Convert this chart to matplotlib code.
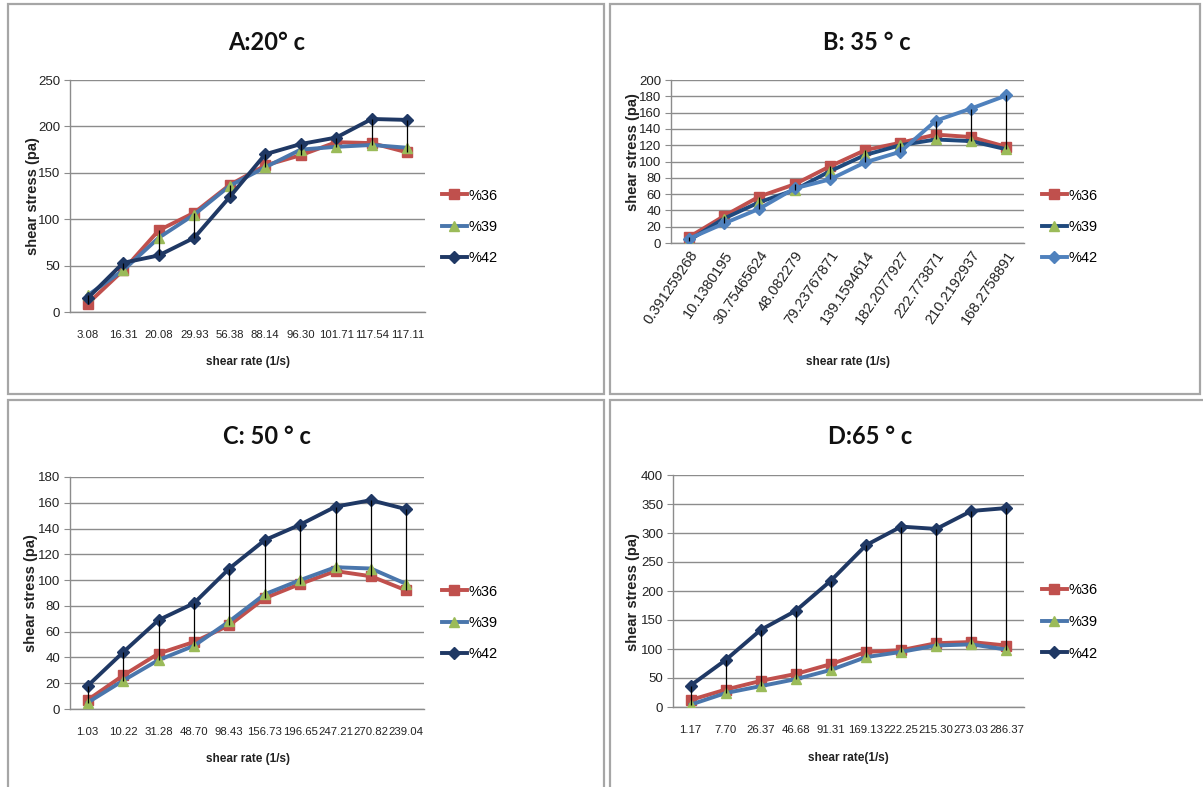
import matplotlib
matplotlib.use("Agg")
import matplotlib.pyplot as plt
from matplotlib.patches import Rectangle

# ---------------- data ----------------
a_rates = ["3.08", "16.31", "20.08", "29.93", "56.38", "88.14", "96.30", "101.71", "117.54", "117.11"]
a_36 = [9, 45, 88, 107, 137, 158, 169, 183, 182, 172]
a_39 = [18, 45, 80, 105, 136, 156, 175, 178, 180, 177]
a_42 = [15, 53, 61, 80, 124, 170, 181, 188, 208, 207]

b_rates = ["0.391259268", "10.1380195", "30.75465624", "48.082279", "79.23767871",
           "139.1594614", "182.2077927", "222.773871", "210.2192937", "168.2758891"]
b_36 = [7, 33, 57, 72, 94, 114, 123, 133, 130, 118]
b_39 = [3, 30, 50, 65, 88, 108, 120, 127, 125, 115]
b_42 = [5, 24, 42, 67, 78, 99, 112, 150, 165, 181]

c_rates = ["1.03", "10.22", "31.28", "48.70", "98.43", "156.73", "196.65", "247.21", "270.82", "239.04"]
c_36 = [7, 26, 43, 52, 65, 86, 97, 107, 103, 92]
c_39 = [5, 22, 38, 49, 68, 89, 100, 110, 109, 97]
c_42 = [18, 44, 69, 82, 109, 131, 143, 157, 162, 155]

d_rates = ["1.17", "7.70", "26.37", "46.68", "91.31", "169.13", "222.25", "215.30", "273.03", "286.37"]
d_36 = [12, 30, 45, 57, 74, 95, 98, 110, 112, 106]
d_39 = [4, 24, 36, 48, 64, 86, 95, 106, 108, 99]
d_42 = [37, 81, 133, 166, 218, 279, 311, 307, 338, 343]

series_names = ["%36", "%39", "%42"]
titles = ["A:20° c", "B: 35 ° c", "C: 50 ° c", "D:65 ° c"]
xlabels = ["shear rate (1/s)", "shear rate (1/s)", "shear rate (1/s)", "shear rate(1/s)"]
ylabel = "shear stress (pa)"

# ---------------- styling ----------------
W, H = 1203, 787
fig = plt.figure(figsize=(W / 100, H / 100), dpi=100)
fig.patch.set_facecolor("white")

SANS = ["Liberation Sans", "DejaVu Sans"]
TITLEF = ["Lato", "DejaVu Sans"]

RED = "#C0504D"
MID = "#4A76AC"
NAVY = "#1F3864"
GREEN = "#9BBB59"
LBLUE = "#4F81BD"
DNAVY = "#1F497D"
GRID = "#8C8C8C"


def fx(px):
    return px / W


def fy(py):
    return 1 - py / H


# panel borders (pixel boxes: x0, y0, x1, y1)
boxes = [(8, 4, 604, 394), (610, 4, 1200, 394), (8, 400, 604, 790), (610, 400, 1206, 790)]
for (x0, y0, x1, y1) in boxes:
    fig.patches.append(Rectangle((fx(x0), fy(y1)), fx(x1 - x0), (y1 - y0) / H,
                                 transform=fig.transFigure, fill=False,
                                 edgecolor="#A6A6A6", linewidth=1.6))

panels = [
    dict(rect=(70, 80, 425, 312), rates=a_rates, data=(a_36, a_39, a_42), ymax=250, step=50,
         colors=(RED, MID, NAVY), rot=0, title_xy=(267, 42), xl_xy=(248, 362), yl_xy=(33, 196),
         leg_xy=(442, 227)),
    dict(rect=(671, 80, 1024, 243), rates=b_rates, data=(b_36, b_39, b_42), ymax=200, step=20,
         colors=(RED, DNAVY, LBLUE), rot=56, title_xy=(867, 42), xl_xy=(848, 362), yl_xy=(633, 152),
         leg_xy=(1042, 227)),
    dict(rect=(70, 477, 424, 709), rates=c_rates, data=(c_36, c_39, c_42), ymax=180, step=20,
         colors=(RED, MID, NAVY), rot=0, title_xy=(267, 437), xl_xy=(248, 759), yl_xy=(31, 593),
         leg_xy=(442, 623)),
    dict(rect=(673, 475, 1024, 707), rates=d_rates, data=(d_36, d_39, d_42), ymax=400, step=50,
         colors=(RED, MID, NAVY), rot=0, title_xy=(870, 436), xl_xy=(848, 758), yl_xy=(633, 592),
         leg_xy=(1042, 622)),
]

markers = ["s", "^", "D"]
msizes = [7.5, 7.5, 6]

for i, p in enumerate(panels):
    x0, y0, x1, y1 = p["rect"]
    ax = fig.add_axes([fx(x0), fy(y1), fx(x1 - x0), (y1 - y0) / H])
    n = len(p["rates"])
    xs = list(range(n))
    handles = []
    for k, (vals, col) in enumerate(zip(p["data"], p["colors"])):
        mfc = GREEN if k == 1 else col
        ln, = ax.plot(xs, vals, color=col, lw=2.8, marker=markers[k], markersize=msizes[k],
                      markerfacecolor=mfc, markeredgecolor=mfc, zorder=3 + k,
                      solid_joinstyle="round")
        handles.append(ln)
    # high-low lines
    lows = [min(v) for v in zip(*p["data"])]
    highs = [max(v) for v in zip(*p["data"])]
    ax.vlines(xs, lows, highs, color="black", lw=0.9, zorder=7)

    ax.set_xlim(-0.5, n - 0.5)
    ax.set_ylim(0, p["ymax"])
    ax.set_yticks(list(range(0, p["ymax"] + 1, p["step"])))
    ax.yaxis.grid(True, color=GRID, lw=1.0)
    ax.set_axisbelow(True)
    for s in ["top", "right"]:
        ax.spines[s].set_visible(False)
    for s in ["left", "bottom"]:
        ax.spines[s].set_color(GRID)
        ax.spines[s].set_linewidth(1.0)
    ax.tick_params(axis="y", direction="out", length=4, color=GRID, pad=3,
                   labelsize=9.5, labelcolor="#222222")
    ax.tick_params(axis="x", length=0, pad=13, labelcolor="#222222")
    for t in ax.get_yticklabels():
        t.set_family(SANS)
    ax.set_xticks(xs)
    if p["rot"]:
        ax.set_xticklabels(p["rates"], rotation=p["rot"], ha="right", va="top",
                           rotation_mode="anchor", family=SANS, fontsize=10.5)
        ax.tick_params(axis="x", pad=4)
    else:
        ax.set_xticklabels(p["rates"], family=SANS, fontsize=8.2)

    # title, axis labels
    tx, ty = p["title_xy"]
    fig.text(fx(tx), fy(ty), titles[i], ha="center", va="center", fontsize=17,
             fontweight="bold", family=TITLEF, color="#111111")
    lx, ly = p["xl_xy"]
    fig.text(fx(lx), fy(ly), xlabels[i], ha="center", va="center", fontsize=8.5,
             fontweight="bold", family=SANS, color="#222222")
    yx, yy = p["yl_xy"]
    fig.text(fx(yx), fy(yy), ylabel, ha="center", va="center", rotation=90, fontsize=10.5,
             fontweight="bold", family=SANS, color="#222222")

    # legend
    gx, gy = p["leg_xy"]
    ax.legend(handles, series_names, loc="center left",
              bbox_to_anchor=(fx(gx), fy(gy)), bbox_transform=fig.transFigure,
              frameon=False, numpoints=1, handlelength=1.7, handletextpad=0.1,
              labelspacing=1.2, borderpad=0, borderaxespad=0,
              prop={"family": SANS, "size": 10.5})

fig.savefig("out.png", dpi=100, facecolor="white")
